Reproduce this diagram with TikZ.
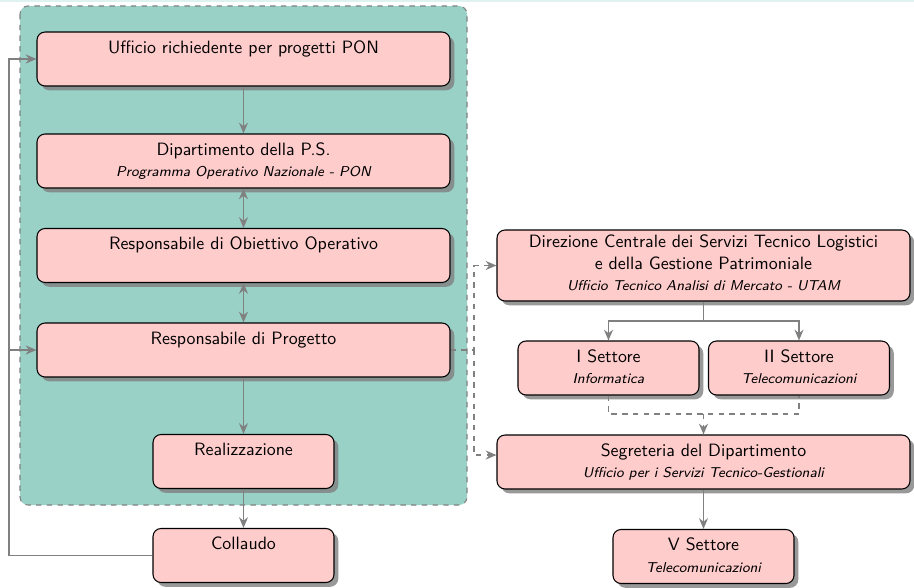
\documentclass[tikz,border=0pt]{standalone}
\usetikzlibrary{shadows,arrows.meta}
\def\PX{0.56pt}
\definecolor{tealbg}{RGB}{153,209,199}
\definecolor{pinkbox}{RGB}{255,204,204}
\definecolor{conncol}{RGB}{128,128,128}
\definecolor{topband}{RGB}{222,242,239}
\newcommand\subl[1]{{\footnotesize\itshape\strut #1}}
\tikzset{
  box/.style={draw=black, line width=0.6pt, fill=pinkbox, rounded corners=4.5pt, align=center,
    font=\sffamily, minimum height=54*\PX, inner sep=2pt,
    drop shadow={shadow xshift=2.4pt, shadow yshift=-2.4pt, fill=black!50, opacity=0.8}},
  widebox/.style={box, minimum width=413*\PX},
  narrowbox/.style={box, minimum width=181*\PX},
  conn/.style={draw=conncol, line width=1.1pt, -{Stealth[length=6pt,width=5pt]}},
  bconn/.style={draw=conncol, line width=1.1pt, {Stealth[length=6pt,width=5pt]}-{Stealth[length=6pt,width=5pt]}},
  plainline/.style={draw=conncol, line width=1.1pt},
  dconn/.style={conn, dashed},
  dline/.style={plainline, dashed},
  group/.style={draw=conncol, line width=0.6pt, dashed, fill=tealbg, rounded corners=4.5pt}
}
\begin{document}
\begin{tikzpicture}[x=\PX, y=-\PX]
\useasboundingbox (0,0) rectangle (914,588);
\fill[topband] (0,0) rectangle (914,2);
\draw[group] (20,6) rectangle (467,505);

\node[widebox] (uff) at (243.5,59) {Ufficio richiedente per progetti PON\strut\\\subl{}};
\node[widebox] (dip) at (243.5,161) {Dipartimento della P.S.\strut\\\subl{Programma Operativo Nazionale - PON}};
\node[widebox] (rob) at (243.5,255.5) {Responsabile di Obiettivo Operativo\strut\\\subl{}};
\node[widebox] (rp) at (243.5,350) {Responsabile di Progetto\strut\\\subl{}};
\node[narrowbox] (rea) at (243.5,461.5) {Realizzazione\strut\\\subl{}};
\node[narrowbox] (col) at (243.5,555.5) {Collaudo\strut\\\subl{}};

\node[widebox, minimum height=71*\PX] (dir) at (703.5,265.5) {Direzione Centrale dei Servizi Tecnico Logistici\\e della Gestione Patrimoniale\strut\\\subl{Ufficio Tecnico Analisi di Mercato - UTAM}};
\node[narrowbox] (s1) at (608.5,368) {I Settore\strut\\\subl{Informatica}};
\node[narrowbox] (s2) at (799,368) {II Settore\strut\\\subl{Telecomunicazioni}};
\node[widebox] (seg) at (703.5,462) {Segreteria del Dipartimento\strut\\\subl{Ufficio per i Servizi Tecnico-Gestionali}};
\node[narrowbox] (s5) at (703.5,556.5) {V Settore\strut\\\subl{Telecomunicazioni}};

% left column
\draw[conn] (uff) -- (dip);
\draw[bconn] (dip) -- (rob);
\draw[bconn] (rob) -- (rp);
\draw[conn] (rp) -- (rea);
\draw[conn] (rea) -- (col);

% feedback loop
\coordinate (fbx) at (9,0);
\draw[conn] (col.west) -- (col.west -| fbx) -- (uff.west -| fbx) -- (uff.west);
\draw[conn] (rp.west -| fbx) -- (rp.west);

% dashed links to the right
\coordinate (dx) at (474,0);
\coordinate (segin) at ([yshift=3.9pt]seg.west);
\draw[dconn] (rp.east) -- (rp.east -| dx) -- (dir.west -| dx) -- (dir.west);
\draw[dconn] (rp.east -| dx) -- (segin -| dx) -- (segin);

% Direzione to settori
\coordinate (dj) at (703.5,321);
\draw[conn] (dir.south) -- (dj) -| (s1.north);
\draw[conn] (dj) -| (s2.north);

% settori to Segreteria
\coordinate (sj) at (703.5,414);
\draw[dline] (s1.south) -- (s1.south |- sj) -- (s2.south |- sj) -- (s2.south);
\draw[dconn] (sj) -- (seg.north);

\draw[conn] (seg) -- (s5);
\end{tikzpicture}
\end{document}
